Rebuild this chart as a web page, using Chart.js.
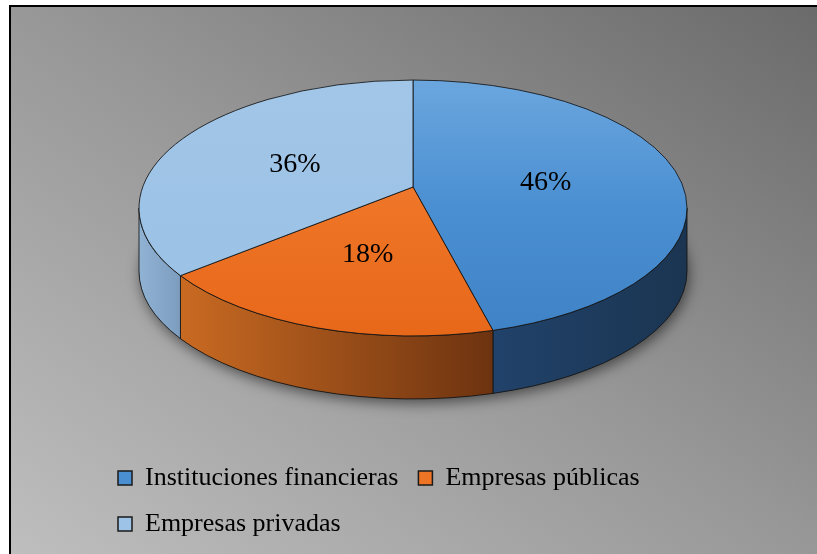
<!DOCTYPE html>
<html>
<head>
<meta charset="utf-8">
<script src="https://cdn.jsdelivr.net/npm/chart.js@4.4.0/dist/chart.umd.min.js"></script>
<style>
html,body{margin:0;padding:0;background:#fff;}
#frame{position:absolute;left:9px;top:5px;width:820px;height:560px;border-left:2px solid #000;border-top:2px solid #000;
  background:linear-gradient(to top right,#bfbfbf 0%,#989898 50%,#6a6a6a 100%);}
#box{position:absolute;left:0;top:0;width:817px;height:554px;}
</style>
</head>
<body>
<div id="frame"></div>
<div id="box"><canvas id="pieChart"></canvas></div>
<script>
// data
var categories = ['Instituciones financieras', 'Empresas públicas', 'Empresas privadas'];
var shares = [46, 18, 36];
var shareLabels = ['46%', '18%', '36%'];

// colours (top face light/dark, side wall left/right)
var topColors  = ['#4a8fd2', '#ee7426', '#9dc3e6'];
var topLight   = ['#6ba6de', '#f18e50', '#a2c6e7'];
var topDark    = ['#3f83c6', '#e8681a', '#9bc1e4'];
var sideLeft   = ['#21426a', '#c96a22', '#90b2d3'];
var sideRight  = ['#1b3551', '#6d3310', '#7d9dbf'];

var tilt = 0.467;     // ry / rx
var depth = 63;       // thickness of the pie
var persp = 0.164;    // perspective: centre point sits above ellipse centre
var liftY = -14.5;

// project a point of the flat disc (u,v in unit circle) onto the tilted ellipse
function proj(u, v){
  var d = 1 - persp*v;
  return {u: u*Math.sqrt(1 - persp*persp)/d, v: (v - persp)/d};
}
function screenAngle(a){
  var p = proj(Math.cos(a), Math.sin(a));
  var phi = Math.atan2(p.v, p.u);
  while (phi < a - Math.PI) phi += Math.PI*2;
  while (phi > a + Math.PI) phi -= Math.PI*2;
  return phi;
}
function ept(cx, cy, rx, ry, a){ return {x: cx + rx*Math.cos(a), y: cy + ry*Math.sin(a)}; }

var pie3d = {
  id: 'pie3d',
  beforeDatasetsDraw: function(chart){
    var ctx = chart.ctx;
    var arcs = chart.getDatasetMeta(0).data;
    var rx = arcs[0].outerRadius, ry = rx*tilt;
    var cx = arcs[0].x, cy = arcs[0].y + liftY;
    var apex = proj(0, 0);
    var ax = cx + rx*apex.u, ay = cy + ry*apex.v;

    ctx.save();
    // shadow under the pie
    ctx.save();
    ctx.shadowColor = 'rgba(0,0,0,0.55)';
    ctx.shadowBlur = 14;
    ctx.shadowOffsetX = 2;
    ctx.shadowOffsetY = 4;
    ctx.fillStyle = '#333';
    ctx.beginPath();
    ctx.ellipse(cx, cy + depth, rx, ry, 0, 0, Math.PI*2);
    ctx.fill();
    ctx.restore();

    ctx.lineWidth = 1;
    ctx.strokeStyle = 'rgba(20,20,20,0.85)';

    var ang = arcs.map(function(arc){
      return {s: screenAngle(arc.startAngle), e: screenAngle(arc.endAngle)};
    });
    ang.forEach(function(a, i){ if (a.e < a.s) a.e += Math.PI*2; });

    // side walls (front half only)
    ang.forEach(function(a, i){
      var a0 = Math.max(a.s, 0), a1 = Math.min(a.e, Math.PI);
      if (a1 <= a0) return;
      var p0 = ept(cx, cy, rx, ry, a0), p1 = ept(cx, cy, rx, ry, a1);
      var g = ctx.createLinearGradient(Math.min(p0.x,p1.x), 0, Math.max(p0.x,p1.x), 0);
      g.addColorStop(0, sideLeft[i]);
      g.addColorStop(1, sideRight[i]);
      ctx.beginPath();
      ctx.ellipse(cx, cy, rx, ry, 0, a0, a1, false);
      ctx.lineTo(p1.x, p1.y + depth);
      ctx.ellipse(cx, cy + depth, rx, ry, 0, a1, a0, true);
      ctx.closePath();
      ctx.fillStyle = g;
      ctx.fill();
      ctx.stroke();
    });

    // top faces
    ang.forEach(function(a, i){
      var ps = ept(cx, cy, rx, ry, a.s);
      var g = ctx.createLinearGradient(0, cy - ry, 0, cy + ry);
      g.addColorStop(0, topLight[i]);
      g.addColorStop(0.5, topColors[i]);
      g.addColorStop(1, topDark[i]);
      ctx.beginPath();
      ctx.moveTo(ax, ay);
      ctx.lineTo(ps.x, ps.y);
      ctx.ellipse(cx, cy, rx, ry, 0, a.s, a.e, false);
      ctx.closePath();
      ctx.fillStyle = g;
      ctx.fill();
      ctx.stroke();
    });

    // value labels
    ctx.fillStyle = '#000';
    ctx.font = '28px "Liberation Serif"';
    ctx.textAlign = 'center';
    ctx.textBaseline = 'middle';
    arcs.forEach(function(arc, i){
      var m = (arc.startAngle + arc.endAngle)/2;
      var p = proj(0.5*Math.cos(m), 0.5*Math.sin(m));
      ctx.fillText(shareLabels[i], cx + rx*p.u, cy + ry*p.v + 3);
    });
    ctx.restore();
    return false;
  }
};

var myChart = new Chart(document.getElementById('pieChart'), {
  type: 'pie',
  data: {
    labels: categories,
    datasets: [{
      data: shares,
      backgroundColor: topColors,
      borderColor: '#1a1a1a',
      borderWidth: 1.5,
      radius: 274
    }]
  },
  options: {
    responsive: true,
    maintainAspectRatio: false,
    animation: false,
    layout: { padding: { left: 98, right: 89, top: 0, bottom: 7 } },
    plugins: {
      legend: {
        position: 'bottom',
        align: 'start',
        labels: {
          color: '#000',
          font: { family: 'Liberation Serif', size: 26 },
          boxWidth: 14,
          boxHeight: 14,
          padding: 20
        }
      },
      tooltip: { enabled: false }
    }
  },
  plugins: [pie3d]
});
</script>
</body>
</html>
